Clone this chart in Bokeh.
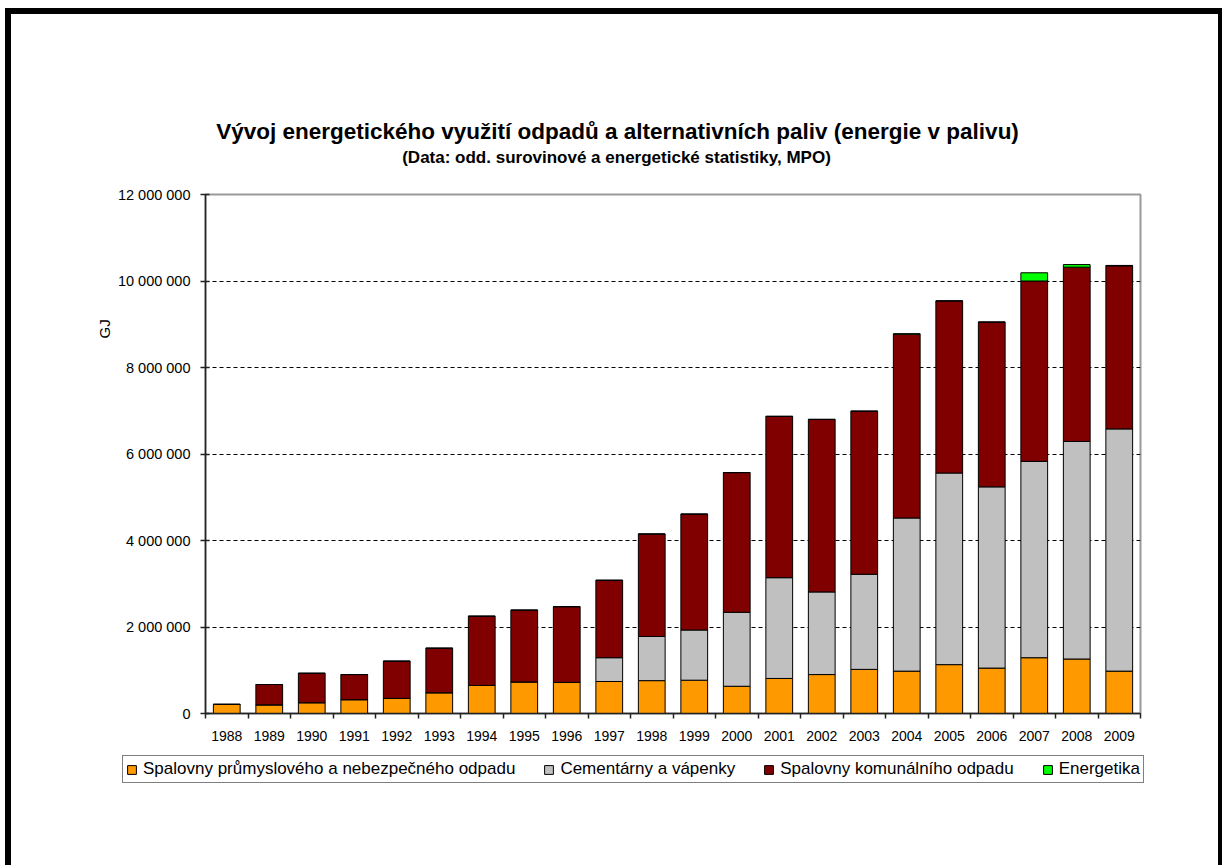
from bokeh.plotting import figure
from bokeh.layouts import column
from bokeh.models import (ColumnDataSource, Range1d, FixedTicker, Legend,
                          LegendItem, Label, Title)
from bokeh.embed import file_html
from bokeh.resources import INLINE

# ---------------- data ----------------
years = ["1988", "1989", "1990", "1991", "1992", "1993", "1994", "1995", "1996",
         "1997", "1998", "1999", "2000", "2001", "2002", "2003", "2004", "2005",
         "2006", "2007", "2008", "2009"]
prumyslove = [210000, 200000, 250000, 320000, 350000, 480000, 650000, 730000, 720000,
              740000, 760000, 770000, 630000, 810000, 900000, 1020000, 980000, 1130000,
              1050000, 1290000, 1260000, 980000]
cementarny = [0, 0, 0, 0, 0, 0, 0, 0, 0,
              550000, 1020000, 1160000, 1710000, 2330000, 1910000, 2200000, 3540000, 4430000,
              4190000, 4540000, 5030000, 5600000]
komunalni = [0, 470000, 680000, 580000, 860000, 1030000, 1600000, 1660000, 1750000,
             1790000, 2370000, 2680000, 3230000, 3730000, 3990000, 3770000, 4250000, 3980000,
             3810000, 4170000, 4030000, 3770000]
energetika = [0, 0, 0, 0, 0, 0, 0, 0, 0,
              0, 0, 0, 0, 0, 0, 0, 10000, 0,
              0, 190000, 60000, 10000]
series_names = ["Spalovny průmyslového a nebezpečného odpadu", "Cementárny a vápenky",
                "Spalovny komunálního odpadu", "Energetika"]
series_colors = ["#FF9900", "#C0C0C0", "#800000", "#00FF00"]
y_ticks = [0, 2000000, 4000000, 6000000, 8000000, 10000000, 12000000]
y_tick_labels = ["0", "2 000 000", "4 000 000", "6 000 000", "8 000 000",
                 "10 000 000", "12 000 000"]
title_text = "Vývoj energetického využití odpadů a alternativních paliv (energie v palivu)"
subtitle_text = "(Data: odd. surovinové a energetické statistiky, MPO)"
y_label = "GJ"

FONT = "Liberation Sans"
W = 1207  # content width inside the thick page border


def plain_strip(height):
    f = figure(width=W, height=height, output_backend="svg", toolbar_location=None,
               x_axis_type=None, y_axis_type=None, min_border=0,
               background_fill_color="white", border_fill_color="white")
    f.outline_line_color = None
    f.grid.visible = False
    try:
        f.frame_align = False
    except Exception:
        pass
    return f


n = len(years)
centers = [i + 0.5 for i in range(n)]
bounds = [float(i) for i in range(n + 1)]
src = ColumnDataSource(dict(x=centers, s0=prumyslove, s1=cementarny,
                            s2=komunalni, s3=energetika))

# ---------------- header (titles) ----------------
p0 = plain_strip(170)
p0.x_range = Range1d(0, 1)
p0.y_range = Range1d(0, 1)
p0.add_layout(Label(x=606, y=53, x_units="screen", y_units="screen", text=title_text,
                    text_align="center", text_baseline="middle", text_font=FONT,
                    text_font_size="22.5px", text_font_style="bold", text_color="black"))
p0.add_layout(Label(x=605, y=27, x_units="screen", y_units="screen", text=subtitle_text,
                    text_align="center", text_baseline="middle", text_font=FONT,
                    text_font_size="17px", text_font_style="bold", text_color="black"))

# ---------------- main chart ----------------
p = figure(width=W, height=566, output_backend="svg", toolbar_location=None,
           x_range=Range1d(0, n), y_range=Range1d(0, 12000000),
           min_border_left=194, min_border_right=78, min_border_top=10,
           min_border_bottom=37, background_fill_color="white",
           border_fill_color="white")

renderers = p.vbar_stack(["s0", "s1", "s2", "s3"], x="x", width=0.63, source=src,
                         fill_color=series_colors, line_color="black", line_width=1)

p.yaxis.ticker = FixedTicker(ticks=y_ticks)
p.yaxis.major_label_overrides = {t: l for t, l in zip(y_ticks, y_tick_labels)}
p.yaxis.minor_tick_line_color = None
p.yaxis.major_tick_in = 4
p.yaxis.major_tick_out = 5
p.yaxis.major_label_standoff = 10
p.yaxis.major_label_text_font = FONT
p.yaxis.major_label_text_font_size = "14.5px"
p.yaxis.major_label_text_color = "black"
p.yaxis.axis_line_color = "#222222"
p.yaxis.axis_line_width = 1.5
p.yaxis.major_tick_line_color = "#222222"
p.yaxis.major_tick_line_width = 1.5

# "GJ" unit label, placed high on the left side like in the original
p.add_layout(Title(text=y_label, align="left", offset=375, standoff=3,
                   text_font=FONT, text_font_size="15px", text_font_style="normal",
                   text_color="black"), "left")

p.xaxis.ticker = FixedTicker(ticks=centers, minor_ticks=bounds)
p.xaxis.major_label_overrides = {c: y for c, y in zip(centers, years)}
p.xaxis.major_tick_in = 0
p.xaxis.major_tick_out = 0
p.xaxis.minor_tick_in = 0
p.xaxis.minor_tick_out = 5
p.xaxis.minor_tick_line_color = "#222222"
p.xaxis.minor_tick_line_width = 1.5
p.xaxis.major_label_standoff = 12
p.xaxis.major_label_text_font = FONT
p.xaxis.major_label_text_font_size = "14px"
p.xaxis.major_label_text_color = "black"
p.xaxis.axis_line_color = "#222222"
p.xaxis.axis_line_width = 1.5

p.xgrid.grid_line_color = None
p.ygrid.ticker = FixedTicker(ticks=y_ticks[1:-1])
p.ygrid.grid_line_color = "black"
p.ygrid.grid_line_dash = "4 3"
p.ygrid.grid_line_width = 1

p.outline_line_color = "#9a9a9a"
p.outline_line_width = 2

# ---------------- legend strip ----------------
p2 = plain_strip(115)
p2.x_range = Range1d(-100, -90)  # the stacked bars lie far outside this strip;
p2.y_range = Range1d(-20, -10)   # only their legend swatches are shown
legend_renderers = p2.vbar_stack(["s0", "s1", "s2", "s3"], x="x", width=0.63, source=src,
                                 fill_color=series_colors, line_color="black", line_width=1)
items = [LegendItem(label=nm, renderers=[r]) for nm, r in zip(series_names, legend_renderers)]
legend = Legend(items=items, orientation="horizontal", location=(111, 82),
                label_text_font=FONT, label_text_font_size="17px",
                label_text_color="black", glyph_height=11, glyph_width=11,
                label_standoff=6, spacing=28, padding=3, margin=0,
                label_height=11, border_line_color="black", border_line_width=1.5,
                background_fill_color="white", background_fill_alpha=1)
p2.add_layout(legend)

page = column(p0, p, p2, spacing=0,
              styles={"margin-left": "5px", "margin-top": "8px",
                      "border-top": "6px solid black", "border-left": "6px solid black",
                      "border-right": "4px solid black"})

open("out.html", "w").write(file_html(page, INLINE))
